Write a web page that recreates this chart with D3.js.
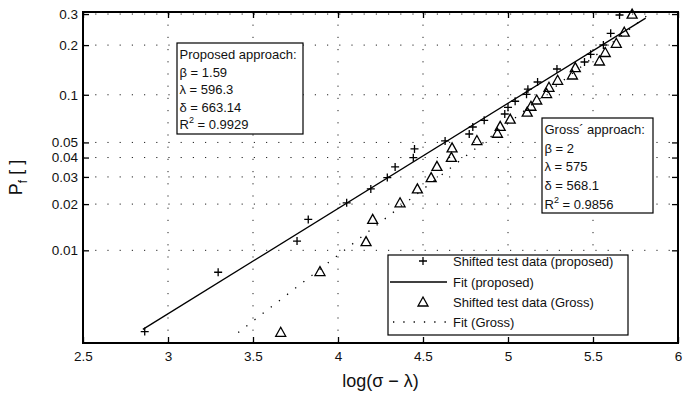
<!DOCTYPE html>
<html>
<head>
<meta charset="utf-8">
<script src="https://cdn.jsdelivr.net/npm/d3@7"></script>
<style>
  body { margin: 0; background: #fff; }
  svg { display: block; font-family: "Liberation Sans", Arial, sans-serif; }
</style>
</head>
<body>
<div id="chart"></div>
<script>
// axis ticks
const xTicks = [2.5, 3, 3.5, 4, 4.5, 5, 5.5, 6];
const yTicks = [0.01, 0.02, 0.03, 0.04, 0.05, 0.1, 0.2, 0.3];
const yTickLabels = ['0.01', '0.02', '0.03', '0.04', '0.05', '0.1', '0.2', '0.3'];

// shifted test data (proposed)
const proposedX = [2.863, 3.295, 3.759, 3.825, 4.051, 4.193, 4.290, 4.336, 4.443, 4.450, 4.630, 4.772, 4.793,
  4.860, 4.981, 5.000, 5.042, 5.109, 5.117, 5.174, 5.288, 5.450, 5.486, 5.561, 5.604, 5.656];
const proposedP = [0.00294, 0.00719, 0.0115, 0.0159, 0.0204, 0.0251, 0.0297, 0.0348, 0.0399, 0.0454, 0.0511,
  0.0566, 0.0627, 0.0691, 0.0758, 0.0835, 0.0911, 0.1007, 0.1083, 0.120, 0.144, 0.1587, 0.1765, 0.2003, 0.2341, 0.2964];

// shifted test data (Gross)
const grossX = [3.663, 3.894, 4.165, 4.204, 4.365, 4.467, 4.548, 4.582, 4.667, 4.671, 4.817, 4.938, 4.954, 5.013,
  5.113, 5.135, 5.169, 5.227, 5.241, 5.292, 5.379, 5.396, 5.538, 5.572, 5.637, 5.684, 5.730];
const grossP = [0.00291, 0.00727, 0.0114, 0.0159, 0.0204, 0.0251, 0.0297, 0.0351, 0.0401, 0.0461, 0.0514, 0.0572,
  0.0633, 0.0703, 0.0778, 0.0848, 0.0928, 0.1018, 0.1113, 0.1229, 0.1324, 0.1467, 0.1610, 0.1809, 0.2049, 0.2375, 0.2995];

// fit lines (end points)
const fitProposedX = [2.852, 5.81];
const fitProposedP = [0.00304, 0.285];
const fitGrossX = [3.413, 5.817];
const fitGrossP = [0.0029, 0.2937];

// annotation boxes
const proposedText = ['Proposed approach:', 'β = 1.59', 'λ = 596.3', 'δ = 663.14', 'R2 = 0.9929'];
const grossText = ['Gross´ approach:', 'β = 2', 'λ = 575', 'δ = 568.1', 'R2 = 0.9856'];
const legendLabels = ['Shifted test data (proposed)', 'Fit (proposed)', 'Shifted test data (Gross)', 'Fit (Gross)'];

const W = 692, H = 393;
const margin = { top: 12, right: 14, bottom: 50, left: 83 };
const plotLeft = margin.left, plotRight = W - margin.right;
const plotTop = margin.top, plotBottom = H - margin.bottom;

const svg = d3.select('#chart').append('svg').attr('width', W).attr('height', H);

// Weibull probability scale: ln(-ln(1-P))
const weib = p => Math.log(-Math.log(1 - p));
const x = d3.scaleLinear().domain([2.5, 6]).range([plotLeft, plotRight]);
const yW = d3.scaleLinear().domain([-6, -1]).range([plotBottom, plotTop]);
const y = p => yW(weib(p));

// grid
const grid = svg.append('g').attr('stroke', '#222').attr('stroke-width', 1).attr('stroke-dasharray', '1.2,11');
grid.selectAll('.gx').data(xTicks.slice(1, -1)).enter().append('line')
  .attr('x1', d => x(d)).attr('x2', d => x(d)).attr('y1', plotBottom).attr('y2', plotTop);
grid.selectAll('.gy').data(yTicks).enter().append('line')
  .attr('x1', plotLeft).attr('x2', plotRight).attr('y1', d => y(d)).attr('y2', d => y(d));

// fit lines
const line = d3.line().x(d => x(d[0])).y(d => y(d[1]));
svg.append('path')
  .datum(fitProposedX.map((v, i) => [v, fitProposedP[i]]))
  .attr('d', line).attr('fill', 'none').attr('stroke', '#000').attr('stroke-width', 1.3);
svg.append('path')
  .datum(fitGrossX.map((v, i) => [v, fitGrossP[i]]))
  .attr('d', line).attr('fill', 'none').attr('stroke', '#000').attr('stroke-width', 1.3)
  .attr('stroke-dasharray', '1.3,9');

// markers
const plusPath = 'M-4,0H4M0,-4V4';
const triPath = 'M0,-5L5,4L-5,4Z';
svg.append('g').selectAll('path').data(proposedX.map((v, i) => [v, proposedP[i]])).enter().append('path')
  .attr('d', plusPath).attr('transform', d => `translate(${x(d[0])},${y(d[1])})`)
  .attr('stroke', '#000').attr('stroke-width', 1.3).attr('fill', 'none');
svg.append('g').selectAll('path').data(grossX.map((v, i) => [v, grossP[i]])).enter().append('path')
  .attr('d', triPath).attr('transform', d => `translate(${x(d[0])},${y(d[1])})`)
  .attr('stroke', '#000').attr('stroke-width', 1.3).attr('fill', 'none');

// axes: ticks inside, box all round
const axisStyle = g => {
  g.select('.domain').remove();
  g.selectAll('.tick line').attr('stroke', '#000').attr('stroke-width', 1.3);
  g.selectAll('.tick text').attr('fill', '#111').style('font-size', '13.5px');
};
svg.append('g').attr('transform', `translate(0,${plotBottom})`)
  .call(d3.axisBottom(x).tickValues(xTicks).tickFormat(d3.format('')).tickSize(-6).tickPadding(8))
  .call(axisStyle);
svg.append('g').attr('transform', `translate(0,${plotTop})`)
  .call(d3.axisTop(x).tickValues(xTicks).tickFormat('').tickSize(-6))
  .call(axisStyle);
svg.append('g').attr('transform', `translate(${plotLeft},0)`)
  .call(d3.axisLeft(yW).tickValues(yTicks.map(weib)).tickFormat((d, i) => yTickLabels[i]).tickSize(-6).tickPadding(5))
  .call(axisStyle);
svg.append('g').attr('transform', `translate(${plotRight},0)`)
  .call(d3.axisRight(yW).tickValues(yTicks.map(weib)).tickFormat('').tickSize(-6))
  .call(axisStyle);
svg.append('rect').attr('x', plotLeft).attr('y', plotTop)
  .attr('width', plotRight - plotLeft).attr('height', plotBottom - plotTop)
  .attr('fill', 'none').attr('stroke', '#000').attr('stroke-width', 2);

// annotation boxes
function textBox(lines, bx, by, bw, bh, lineH) {
  const g = svg.append('g');
  g.append('rect').attr('x', bx).attr('y', by).attr('width', bw).attr('height', bh)
    .attr('fill', '#fff').attr('stroke', '#000').attr('stroke-width', 1.2);
  lines.forEach((t, i) => {
    const tx = g.append('text').attr('x', bx + 2.5).attr('y', by + 16 + i * lineH)
      .style('font-size', '13px').attr('fill', '#111');
    if (t.startsWith('R2')) {
      tx.append('tspan').text('R');
      tx.append('tspan').attr('dy', -6).style('font-size', '9px').text('2');
      tx.append('tspan').attr('dy', 6).text(t.slice(2));
    } else {
      tx.text(t);
    }
  });
}
textBox(proposedText, 177, 43, 126, 91, 17.6);
textBox(grossText, 542, 118, 111, 95, 18.7);

// legend
const lg = svg.append('g');
lg.append('rect').attr('x', 388).attr('y', 255).attr('width', 240).attr('height', 80)
  .attr('fill', '#fff').attr('stroke', '#000').attr('stroke-width', 1.2);
const rowY = [261, 282, 302, 322];
lg.selectAll('text').data(legendLabels).enter().append('text')
  .attr('x', 453).attr('y', (d, i) => rowY[i] + 4.5).style('font-size', '13px').attr('fill', '#111').text(d => d);
lg.append('path').attr('d', plusPath).attr('transform', `translate(423,${rowY[0]})`)
  .attr('stroke', '#000').attr('stroke-width', 1.3);
lg.append('line').attr('x1', 390).attr('x2', 447).attr('y1', rowY[1]).attr('y2', rowY[1])
  .attr('stroke', '#000').attr('stroke-width', 1.3);
lg.append('path').attr('d', triPath).attr('transform', `translate(423,${rowY[2]})`)
  .attr('stroke', '#000').attr('stroke-width', 1.3).attr('fill', 'none');
lg.append('line').attr('x1', 393).attr('x2', 447).attr('y1', rowY[3]).attr('y2', rowY[3])
  .attr('stroke', '#000').attr('stroke-width', 1.3).attr('stroke-dasharray', '1.3,9');

// axis labels
svg.append('text').attr('x', (plotLeft + plotRight) / 2).attr('y', 387).attr('text-anchor', 'middle')
  .style('font-size', '18px').attr('fill', '#111').text('log(σ − λ)');
const yl = svg.append('text').attr('transform', `translate(22,${(plotTop + plotBottom) / 2}) rotate(-90)`)
  .attr('text-anchor', 'middle').style('font-size', '18px').attr('fill', '#111');
yl.append('tspan').text('P');
yl.append('tspan').attr('dy', 5).style('font-size', '12px').text('f');
yl.append('tspan').attr('dy', -5).text(' [ ]');
</script>
</body>
</html>
